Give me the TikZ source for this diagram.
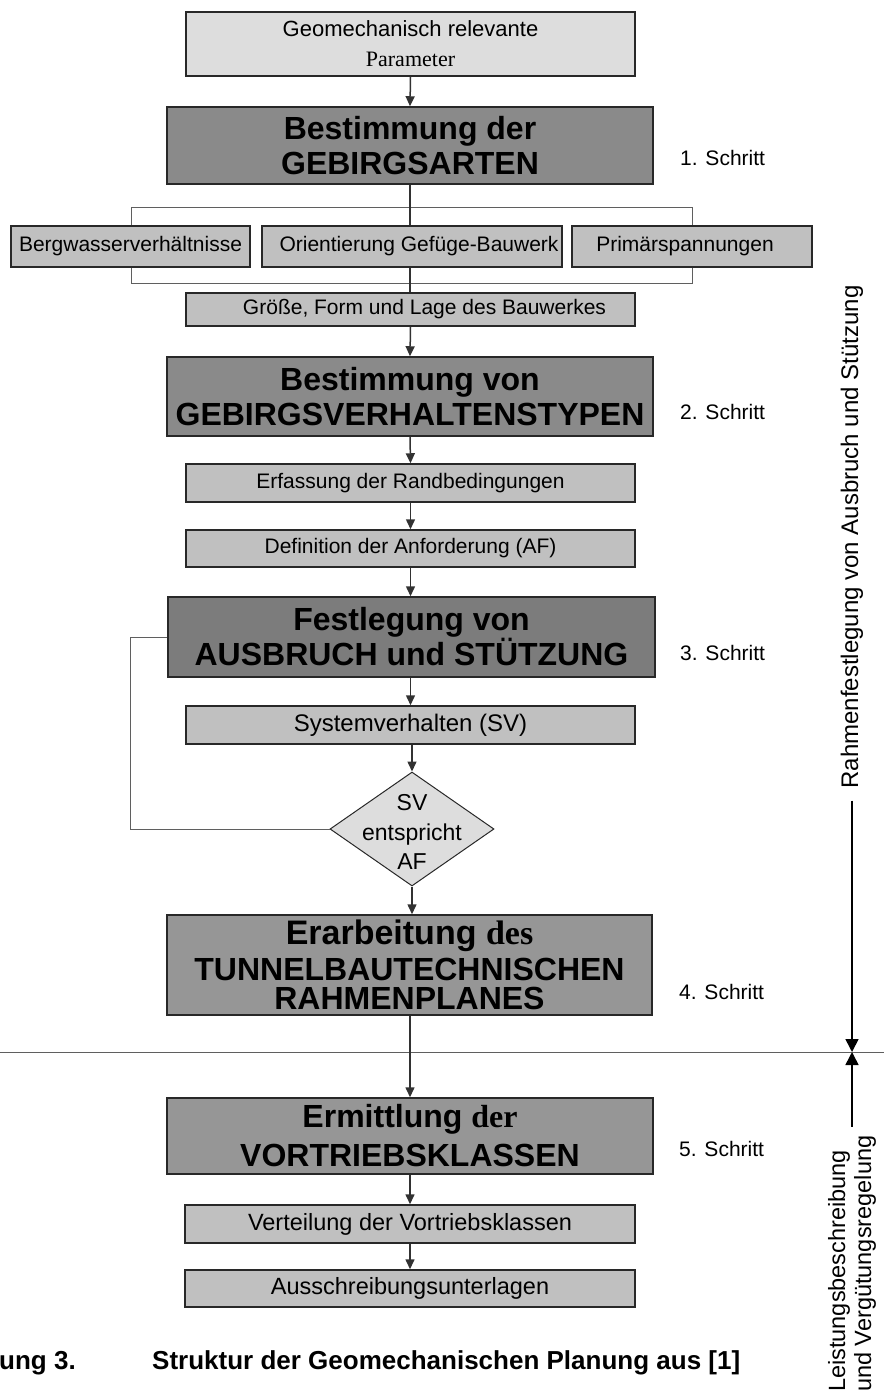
\documentclass[tikz,border=0pt]{standalone}
\usepackage{fontspec}
\setmainfont{Liberation Sans}
\newfontfamily\tms{Liberation Serif}
\usetikzlibrary{arrows.meta,shapes.geometric}
\definecolor{lightbox}{RGB}{221,221,221}
\definecolor{midbox}{RGB}{192,192,192}
\definecolor{darkA}{RGB}{138,138,138}
\definecolor{darkC}{RGB}{124,124,124}
\definecolor{darkD}{RGB}{150,150,150}
\definecolor{edge}{RGB}{40,40,40}
\definecolor{conn}{RGB}{50,50,50}
\definecolor{thinln}{RGB}{95,95,95}
\begin{document}
\begin{tikzpicture}[x=1pt,y=-1pt,
  box/.style={draw=edge, line width=1.5pt, rectangle, inner sep=0pt, align=center},
  bigbox/.style={box, font=\bfseries\fontsize{32pt}{35pt}\selectfont},
  smallbox/.style={box, fill=midbox, font=\fontsize{21pt}{25pt}\selectfont},
  lowbox/.style={box, fill=midbox, font=\fontsize{23.5pt}{27pt}\selectfont},
  stepnote/.style={anchor=west, inner sep=0pt, font=\fontsize{21pt}{25pt}\selectfont},
  arr/.style={draw=conn, line width=1.5pt, -{Triangle[length=10pt,width=9pt]}},
  plainln/.style={draw=conn, line width=1.5pt},
  thinline/.style={draw=thinln, line width=0.9pt},
  bigarr/.style={draw=black, line width=1.6pt, -{Triangle[length=13pt,width=13pt]}}
]
\useasboundingbox (0,0) rectangle (884,1394);

% bracket and separator coordinates
\coordinate (brL) at (131,207);
\coordinate (brR) at (692,207);
\coordinate (brL2) at (131,283);
\coordinate (brR2) at (692,283);
\coordinate (fbx) at (130,0);
\coordinate (sepL) at (0,1052);
\coordinate (sepRR) at (884,1052);
\coordinate (sepR) at (852,1052);

% nodes
\node[box, fill=lightbox, minimum width=449pt, minimum height=64pt,
      font=\fontsize{22pt}{30pt}\selectfont] (top) at (410.5,44)
      {Geomechanisch relevante\\{\tms Parameter}};
\node[bigbox, fill=darkA, minimum width=486pt, minimum height=77pt] (a1) at (410,145.5)
      {Bestimmung der\\GEBIRGSARTEN};
\node[stepnote] (s1) at (680,158) {1. Schritt};

\node[smallbox, minimum width=239pt, minimum height=41pt] (berg) at (130.5,246.5)
      {Bergwasserverhältnisse};
\node[smallbox, minimum width=300pt, minimum height=41pt] (orient) at (412,246.5)
      {\hspace*{14pt}Orientierung Gefüge-Bauwerk};
\node[smallbox, minimum width=240pt, minimum height=41pt] (prim) at (692,246.5)
      {Primärspannungen\hspace*{14pt}};
\node[smallbox, minimum width=449pt, minimum height=33pt] (groesse) at (410.5,309.5)
      {\hspace*{28pt}Größe, Form und Lage des Bauwerkes};

\node[bigbox, fill=darkA, minimum width=486pt, minimum height=79pt] (b2) at (410,396.5)
      {Bestimmung von\\GEBIRGSVERHALTENSTYPEN};
\node[stepnote] (s2) at (680,412) {2. Schritt};

\node[smallbox, minimum width=449pt, minimum height=38pt] (erf) at (410.5,483)
      {Erfassung der Randbedingungen};
\node[smallbox, minimum width=449pt, minimum height=37pt] (def) at (410.5,548.5)
      {Definition der Anforderung (AF)};

\node[bigbox, fill=darkC, minimum width=487pt, minimum height=80pt] (festl) at (411.5,637)
      {Festlegung von\\AUSBRUCH und STÜTZUNG};
\node[stepnote] (s3) at (680,653) {3. Schritt};

\node[smallbox, minimum width=449pt, minimum height=38pt,
      font=\fontsize{24pt}{28pt}\selectfont] (sys) at (410.5,725)
      {Systemverhalten (SV)};

\node[diamond, draw=edge, line width=1pt, fill=lightbox, inner sep=0pt,
      minimum width=164pt, minimum height=114pt] (dia) at (412,829) {};
\node[align=center, inner sep=0pt, font=\fontsize{23pt}{29.5pt}\selectfont] (diatext) at (412,832)
      {SV\\entspricht\\AF};

\node[bigbox, fill=darkD, minimum width=485pt, minimum height=100pt,
      font=\bfseries\fontsize{32pt}{29pt}\selectfont] (d4) at (409.5,965)
      {{\fontsize{34pt}{29pt}\selectfont Erarbeitung {\tms des}}\\[6pt]TUNNELBAUTECHNISCHEN\\RAHMENPLANES};
\node[stepnote] (s4) at (679,992) {4. Schritt};

\node[bigbox, fill=darkD, minimum width=486pt, minimum height=76pt,
      font=\bfseries\fontsize{32pt}{39pt}\selectfont] (e5) at (410,1136)
      {Ermittlung {\tms der}\\VORTRIEBSKLASSEN};
\node[stepnote] (s5) at (679,1149) {5. Schritt};

\node[lowbox, minimum width=450pt, minimum height=38pt] (vert) at (410,1224)
      {Verteilung der Vortriebsklassen};
\node[lowbox, minimum width=450pt, minimum height=37pt] (aus) at (410,1288.5)
      {Ausschreibungsunterlagen};

% side labels
\node[rotate=90, inner sep=0pt, font=\fontsize{24pt}{28pt}\selectfont] (rahmen) at (852,537)
      {Rahmenfestlegung von Ausbruch und Stützung};
\node[rotate=90, anchor=west, align=left, inner sep=0pt,
      font=\fontsize{23.5pt}{26pt}\selectfont] (leist) at (852,1392)
      {Leistungsbeschreibung\\und Vergütungsregelung};

% caption
\node[anchor=west, inner sep=0pt, font=\bfseries\fontsize{26pt}{30pt}\selectfont] (capl) at (-1,1363) {ung 3.};
\node[anchor=west, inner sep=0pt, font=\bfseries\fontsize{26pt}{30pt}\selectfont] (capr) at (152,1363)
      {Struktur der Geomechanischen Planung aus [1]};

% bracket lines
\draw[thinline] (brL |- berg.north) -- (brL) -- (brR) -- (brR |- prim.north);
\draw[thinline] (brL2 |- berg.south) -- (brL2) -- (brR2) -- (brR2 |- prim.south);

% feedback loop
\draw[thinline] (festl.west) -- (festl.west -| fbx) -- (fbx |- dia.west) -- (dia.west);

% separator
\draw[thinline] (sepL) -- (sepRR);

% connectors
\draw[arr] (top.south) -- (a1.north);
\draw[plainln] (a1.south) -- (a1.south |- orient.north);
\draw[plainln] (orient.south -| a1.south) -- (groesse.north -| a1.south);
\draw[arr] (groesse.south) -- (b2.north);
\draw[arr] (b2.south) -- (erf.north);
\draw[arr] (erf.south) -- (def.north);
\draw[arr] (def.south) -- (festl.north -| def.south);
\draw[arr] (festl.south -| sys.north) -- (sys.north);
\draw[arr] (sys.south -| dia.north) -- (dia.north);
\draw[arr] (dia.south) -- (d4.north -| dia.south);
\draw[arr] (d4.south -| e5.north) -- (e5.north);
\draw[arr] (e5.south) -- (vert.north);
\draw[arr] (vert.south) -- (aus.north);

% right side arrows
\draw[bigarr] ([yshift=-12pt]rahmen.west) -- (sepR);
\draw[bigarr] ([yshift=9pt]leist.east) -- (sepR);
\end{tikzpicture}
\end{document}
